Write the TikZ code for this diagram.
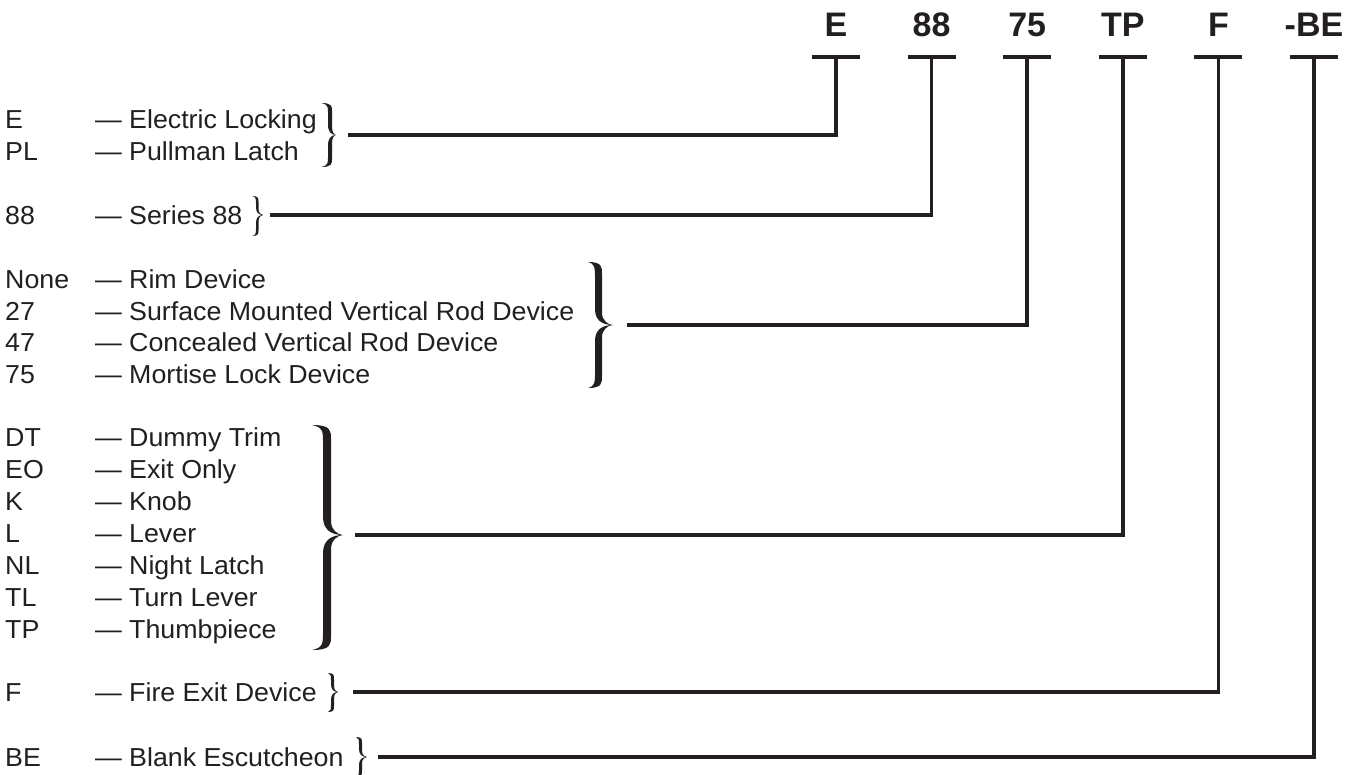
\documentclass[tikz,border=0pt]{standalone}
\usepackage{fontspec}
\setmainfont{Liberation Sans}
\newfontfamily\lblfont[FakeStretch=1.03]{Liberation Sans}
\definecolor{ink}{RGB}{35,31,32}
% brace: #1 x-end of hooks, #2 inner spine x, #3 thickness, #4 tip x, #5 top y, #6 mid y, #7 bottom y, #8 hook size
\newcommand\Brc[8]{%
 \fill[ink] (#1,#5)
  .. controls ({#2+#3},{#5}) and ({#2+#3},{#5+0.4*#8}) .. ({#2+#3},{#5+#8})
  -- ({#2+#3},{#6-#8})
  .. controls ({#2+#3},{#6-0.35*#8}) and ({#4-0.4*(#4-#2-#3)},{#6}) .. (#4,#6)
  .. controls ({#4-0.4*(#4-#2-#3)},{#6}) and ({#2+#3},{#6+0.35*#8}) .. ({#2+#3},{#6+#8})
  -- ({#2+#3},{#7-#8})
  .. controls ({#2+#3},{#7-0.4*#8}) and ({#2+#3},{#7}) .. (#1,#7)
  .. controls ({#2},{#7-0.15*#8}) and ({#2},{#7-0.5*#8}) .. ({#2},{#7-1.2*#8})
  -- ({#2},{#6+1.3*#8})
  .. controls ({#2},{#6+0.4*#8}) and ({#2+0.4*(#4-#2)},{#6}) .. (#4,#6)
  .. controls ({#2+0.4*(#4-#2)},{#6}) and ({#2},{#6-0.4*#8}) .. ({#2},{#6-1.3*#8})
  -- ({#2},{#5+1.2*#8})
  .. controls ({#2},{#5+0.5*#8}) and ({#2},{#5+0.15*#8}) .. (#1,#5) -- cycle;}
\begin{document}
\begin{tikzpicture}[x=1pt,y=-1pt,
 lbl/.style={anchor=base west,inner sep=0pt,font=\lblfont\fontsize{26}{30}\selectfont,text=ink},
 hdr/.style={anchor=base,inner sep=0pt,font=\fontsize{34}{40}\selectfont\bfseries,text=ink},
 conn/.style={draw=ink,line width=3.7pt,line join=miter},
 tbar/.style={draw=ink,line width=4pt}]
\useasboundingbox (0,0) rectangle (1354,775);

% header codes
\node[hdr] (hE)  at (836,36.5) {E};
\node[hdr] (h88) at (931.6,36.5) {88};
\node[hdr] (h75) at (1027.2,36.5) {75};
\node[hdr] (hTP) at (1122.8,36.5) {TP};
\node[hdr] (hF)  at (1218.4,36.5) {F};
\node[hdr] (hBE) at (1314,36.5) {-BE};

% T bars
\foreach \n/\x in {E/836,88/931.6,75/1027.2,TP/1122.8,F/1218.4,BE/1314}{
  \coordinate (t\n) at (\x,57);
  \draw[tbar] ([xshift=-24pt]t\n) -- ([xshift=24pt]t\n);
}

% left labels: code, dash, description
\foreach \n/\c/\d/\y in {
  E/E/Electric Locking/128.3,
  PL/PL/Pullman Latch/160.3,
  88/88/Series 88/224.3,
  No/None/Rim Device/288.5,
  27/27/Surface Mounted Vertical Rod Device/320.2,
  47/47/Concealed Vertical Rod Device/351.9,
  75/75/Mortise Lock Device/383.6,
  DT/DT/Dummy Trim/446.5,
  EO/EO/Exit Only/478.5,
  K/K/Knob/510.5,
  L/L/Lever/542.5,
  NL/NL/Night Latch/574.5,
  TL/TL/Turn Lever/606.5,
  TP/TP/Thumbpiece/638.5,
  F/F/Fire Exit Device/701,
  BE/BE/Blank Escutcheon/766}{
  \node[lbl] (c\n) at (5,\y) {\c};
  \node[lbl] (m\n) at (95,\y) {—};
  \node[lbl] (d\n) at (129,\y) {\d};
}

% braces
\Brc{321}{328}{4}{336}{103}{135}{167}{8}
\Brc{252}{256}{2.5}{263}{196}{215}{236}{6}
\Brc{588}{595}{7}{613}{262}{325}{388}{12}
\Brc{312}{323}{8}{343}{425}{535}{650}{14}
\Brc{328}{331}{3}{338}{673}{692}{712}{6}
\Brc{356}{359}{3}{367}{737}{757}{777}{6}

% connectors
\coordinate (sE)  at (348,135);
\coordinate (s88) at (270,215);
\coordinate (s75) at (627,325);
\coordinate (sTP) at (355,535);
\coordinate (sF)  at (353,692);
\coordinate (sBE) at (378,757);
\draw[conn] (sE)  -| (tE);
\draw[conn] (s88) -| (t88);
\draw[conn] (s75) -| (t75);
\draw[conn] (sTP) -| (tTP);
\draw[conn] (sF)  -| (tF);
\draw[conn] (sBE) -| (tBE);
\end{tikzpicture}
\end{document}
